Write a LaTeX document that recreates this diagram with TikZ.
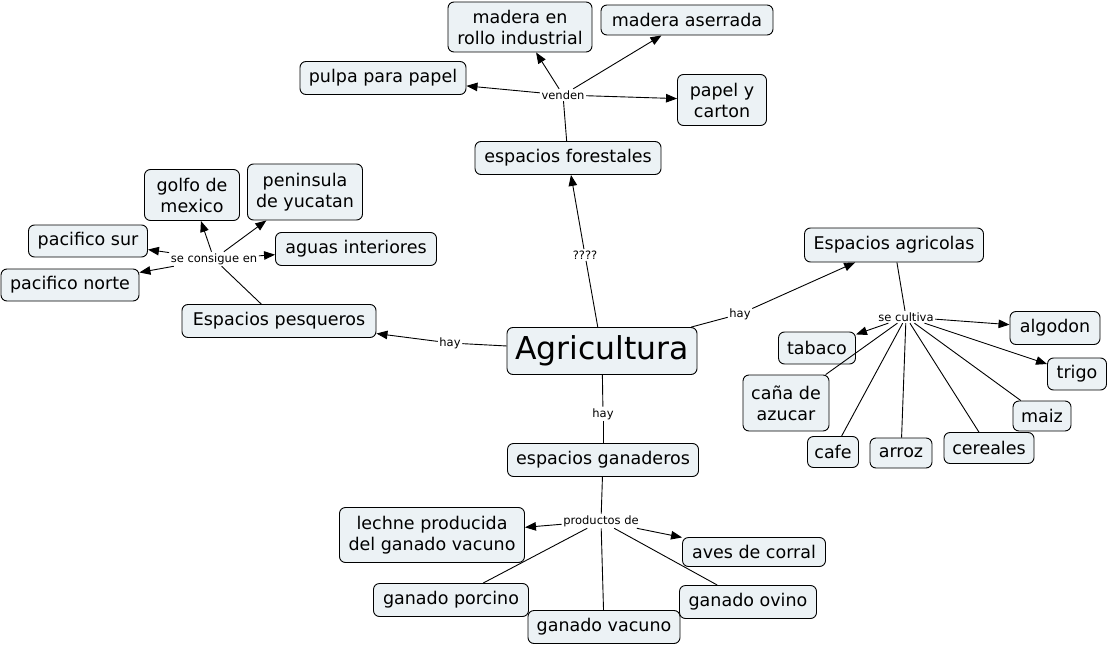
\documentclass[tikz,border=0pt]{standalone}
\usepackage{fontspec}
\setmainfont{DejaVu Sans}
\usetikzlibrary{arrows.meta}
\definecolor{cfill}{RGB}{236,242,245}
\tikzset{
  concept/.style={draw=black, line width=0.9pt, fill=cfill, rounded corners=6pt, align=center, inner sep=0pt, font=\fontsize{17.5}{21}\selectfont},
  lbl/.style={fill=white, inner sep=1.5pt, font=\fontsize{11.5}{13}\selectfont},
  link/.style={line width=0.9pt, draw=black},
  arr/.style={link, -{Triangle[length=11pt,width=8.5pt]}}
}
\begin{document}
\begin{tikzpicture}[x=1pt,y=-1pt]
\useasboundingbox (0,0) rectangle (1110,647);
% concepts
\node[concept, minimum width=190, minimum height=47, font=\fontsize{31.5}{36}\selectfont] (agri) at (602,351) {Agricultura};
\node[concept, minimum width=186, minimum height=33] (fore) at (568,158) {espacios forestales};
\node[concept, minimum width=144, minimum height=50] (rollo) at (520,27) {madera en\\rollo industrial};
\node[concept, minimum width=172, minimum height=30] (aserr) at (687,20) {madera aserrada};
\node[concept, minimum width=166, minimum height=33] (pulpa) at (383,78) {pulpa para papel};
\node[concept, minimum width=89, minimum height=51] (papel) at (722,100) {papel y\\carton};
\node[concept, minimum width=194, minimum height=33] (pesq) at (279,321) {Espacios pesqueros};
\node[concept, minimum width=95, minimum height=51] (golfo) at (192,195) {golfo de\\mexico};
\node[concept, minimum width=115, minimum height=56] (penin) at (305,192) {peninsula\\de yucatan};
\node[concept, minimum width=119, minimum height=32] (psur) at (88,241) {pacifico sur};
\node[concept, minimum width=138, minimum height=32] (pnorte) at (70,285) {pacifico norte};
\node[concept, minimum width=161, minimum height=33] (aguas) at (356,249) {aguas interiores};
\node[concept, minimum width=179, minimum height=34] (agric) at (894,245) {Espacios agricolas};
\node[concept, minimum width=90, minimum height=33] (algodon) at (1055,328) {algodon};
\node[concept, minimum width=77, minimum height=32] (tabaco) at (817,348) {tabaco};
\node[concept, minimum width=59, minimum height=32] (trigo) at (1077,374) {trigo};
\node[concept, minimum width=86, minimum height=56] (cana) at (786,403) {caña de\\azucar};
\node[concept, minimum width=58, minimum height=30] (maiz) at (1042,416) {maiz};
\node[concept, minimum width=51, minimum height=31] (cafe) at (833,452) {cafe};
\node[concept, minimum width=62, minimum height=30] (arroz) at (901,453) {arroz};
\node[concept, minimum width=90, minimum height=31] (cereales) at (989,448) {cereales};
\node[concept, minimum width=191, minimum height=33] (gan) at (603,460) {espacios ganaderos};
\node[concept, minimum width=185, minimum height=55] (leche) at (432,535) {lechne producida\\del ganado vacuno};
\node[concept, minimum width=143, minimum height=29] (aves) at (754,552) {aves de corral};
\node[concept, minimum width=155, minimum height=33] (porc) at (451,600) {ganado porcino};
\node[concept, minimum width=152, minimum height=33] (vac) at (604,627) {ganado vacuno};
\node[concept, minimum width=137, minimum height=33] (ovi) at (748,602) {ganado ovino};
% linking phrases
\node[lbl] (venden) at (563,95) {venden};
\node[lbl] (q) at (585,255) {????};
\node[lbl] (hayL) at (450,343) {hay};
\node[lbl] (consig) at (214,259) {se consigue en};
\node[lbl] (hayR) at (740,314) {hay};
\node[lbl] (cultiva) at (906,317) {se cultiva};
\node[lbl] (hayB) at (603,414) {hay};
\node[lbl] (prod) at (601,521) {productos de};
% connections
\draw[link] (agri) -- (q);
\draw[arr] (q) -- (fore);
\draw[link] (fore) -- (venden);
\draw[arr] (venden) -- (rollo);
\draw[arr] (venden) -- (aserr);
\draw[arr] (venden) -- (pulpa);
\draw[arr] (venden) -- (papel);
\draw[link] (agri) -- (hayL);
\draw[arr] (hayL) -- (pesq);
\draw[link] (pesq) -- (consig);
\draw[arr] (consig) -- (golfo);
\draw[arr] (consig) -- (penin);
\draw[arr] (consig) -- (psur);
\draw[arr] (consig) -- (pnorte);
\draw[arr] (consig) -- (aguas);
\draw[link] (agri) -- (hayR);
\draw[arr] (hayR) -- (agric);
\draw[link] (agric) -- (cultiva);
\draw[arr] (cultiva) -- (tabaco);
\draw[arr] (cultiva) -- (algodon);
\draw[arr] (cultiva) -- (trigo);
\draw[link] (cultiva) -- (cana);
\draw[link] (cultiva) -- (cafe);
\draw[link] (cultiva) -- (arroz);
\draw[link] (cultiva) -- (cereales);
\draw[link] (cultiva) -- (maiz);
\draw[link] (agri) -- (hayB);
\draw[link] (hayB) -- (gan);
\draw[link] (gan) -- (prod);
\draw[arr] (prod) -- (leche);
\draw[arr] (prod) -- (aves);
\draw[link] (prod) -- (porc);
\draw[link] (prod) -- (vac);
\draw[link] (prod) -- (ovi);
\end{tikzpicture}
\end{document}
